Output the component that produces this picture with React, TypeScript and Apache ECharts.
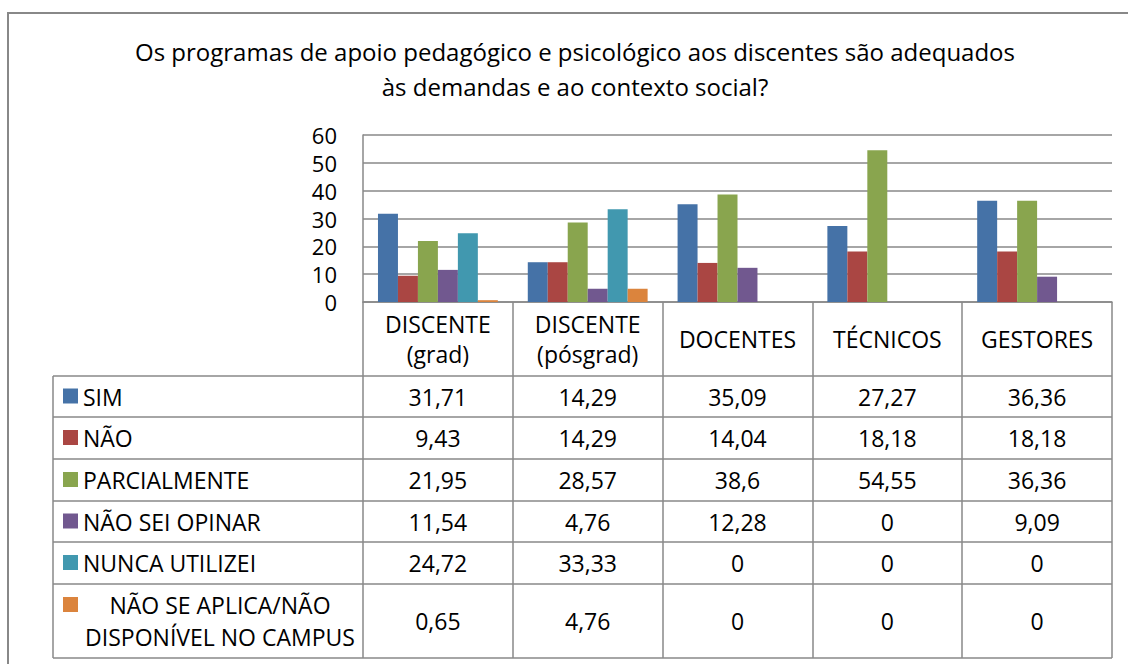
import React, { useEffect, useRef } from "react";
import * as echarts from "echarts";

const titleLines = [
  "Os programas de apoio pedagógico e psicológico aos discentes são adequados",
  "às demandas e ao contexto social?",
];
const categories = ["DISCENTE\n(grad)", "DISCENTE\n(pósgrad)", "DOCENTES", "TÉCNICOS", "GESTORES"];
const seriesNames = [
  "SIM",
  "NÃO",
  "PARCIALMENTE",
  "NÃO SEI OPINAR",
  "NUNCA UTILIZEI",
  "NÃO SE APLICA/NÃO\nDISPONÍVEL NO CAMPUS",
];
const sim = [31.71, 14.29, 35.09, 27.27, 36.36];
const nao = [9.43, 14.29, 14.04, 18.18, 18.18];
const parcialmente = [21.95, 28.57, 38.6, 54.55, 36.36];
const naoSeiOpinar = [11.54, 4.76, 12.28, 0, 9.09];
const nuncaUtilizei = [24.72, 33.33, 0, 0, 0];
const naoSeAplica = [0.65, 4.76, 0, 0, 0];
const seriesValues = [sim, nao, parcialmente, naoSeiOpinar, nuncaUtilizei, naoSeAplica];
const colors = ["#4572A7", "#AA4643", "#89A54E", "#71588F", "#4198AF", "#DB843D"];
const yMin = 0;
const yMax = 60;
const yInterval = 10;

const FONT = "'Open Sans', sans-serif";
const LINE = "#888888";

// layout
const W = 1128;
const H = 664;
const PLOT_L = 363;
const PLOT_R = 1112;
const PLOT_T = 135;
const PLOT_B = 302;
const TABLE_L = 53;
const rowLines = [376, 417, 459, 501, 542, 584, 658];
const TABLE_FS = 23;

const fmt = (v: number) => String(v).replace(".", ",");

export default function App() {
  const ref = useRef<HTMLDivElement>(null);
  useEffect(() => {
    if (!ref.current) return;
    const chart = echarts.init(ref.current, null, { renderer: "svg" });
    const option: any = {
      animation: false,
      backgroundColor: "#ffffff",
      textStyle: { fontFamily: FONT },
      grid: {
        left: PLOT_L,
        top: PLOT_T,
        width: PLOT_R - PLOT_L,
        height: PLOT_B - PLOT_T,
        containLabel: false,
      },
      xAxis: {
        type: "category",
        data: categories,
        boundaryGap: true,
        axisLine: { show: true, lineStyle: { color: LINE, width: 1.5 } },
        axisTick: {
          show: true,
          interval: 0,
          length: rowLines[rowLines.length - 1] - PLOT_B,
          lineStyle: { color: LINE, width: 1.5 },
        },
        axisLabel: {
          interval: 0,
          fontSize: TABLE_FS,
          lineHeight: 30,
          color: "#000",
          fontFamily: FONT,
          margin: 37,
          verticalAlign: "middle",
        },
        splitLine: { show: false },
      },
      yAxis: {
        type: "value",
        min: yMin,
        max: yMax,
        interval: yInterval,
        axisLine: { show: true, lineStyle: { color: LINE, width: 1.5 } },
        axisTick: { show: false },
        axisLabel: { fontSize: 22, color: "#000", fontFamily: FONT, margin: 26 },
        splitLine: { show: true, lineStyle: { color: LINE, width: 1.5 } },
      },
      series: seriesNames.map((name, i) => ({
        name,
        type: "bar",
        data: seriesValues[i],
        barGap: "0%",
        barCategoryGap: "20%",
        itemStyle: { color: colors[i] },
      })),
    };
    chart.setOption(option);

    const xs = categories.map((_, i) => chart.convertToPixel({ xAxisIndex: 0 }, i) as number);
    const graphic: any[] = [];
    // outer border
    graphic.push({
      type: "rect",
      shape: { x: 8, y: 13, width: 1130, height: 700 },
      style: { fill: "none", stroke: LINE, lineWidth: 2 },
      silent: true,
    });
    // title
    graphic.push({
      type: "text",
      x: 575,
      y: 69,
      style: {
        text: titleLines.join("\n"),
        align: "center",
        verticalAlign: "middle",
        lineHeight: 35,
        fontSize: 24,
        fontFamily: FONT,
        fill: "#000",
      },
    });
    // table horizontal lines
    rowLines.forEach((y) => {
      graphic.push({
        type: "line",
        shape: { x1: TABLE_L, y1: y, x2: PLOT_R, y2: y },
        style: { stroke: LINE, lineWidth: 1.5 },
      });
    });
    // left vertical line
    graphic.push({
      type: "line",
      shape: { x1: TABLE_L, y1: rowLines[0], x2: TABLE_L, y2: rowLines[rowLines.length - 1] },
      style: { stroke: LINE, lineWidth: 1.5 },
    });
    // rows
    seriesNames.forEach((name, r) => {
      const top = rowLines[r];
      const bottom = rowLines[r + 1];
      const cy = (top + bottom) / 2;
      const multi = name.includes("\n");
      graphic.push({
        type: "rect",
        shape: { x: 63, y: multi ? top + 13 : cy - 8, width: 15, height: 15 },
        style: { fill: colors[r] },
      });
      graphic.push({
        type: "text",
        x: multi ? 220 : 83,
        y: cy,
        style: {
          text: name,
          align: multi ? "center" : "left",
          verticalAlign: "middle",
          lineHeight: 32,
          fontSize: TABLE_FS,
          fontFamily: FONT,
          fill: "#000",
        },
      });
      seriesValues[r].forEach((v, c) => {
        graphic.push({
          type: "text",
          x: xs[c],
          y: cy,
          style: {
            text: fmt(v),
            align: "center",
            verticalAlign: "middle",
            fontSize: TABLE_FS,
            fontFamily: FONT,
            fill: "#000",
          },
        });
      });
    });
    chart.setOption({ graphic });
    return () => chart.dispose();
  }, []);
  return (
    <div
      ref={ref}
      style={{ position: "fixed", left: 0, top: 0, width: W, height: H, background: "#fff" }}
    />
  );
}
